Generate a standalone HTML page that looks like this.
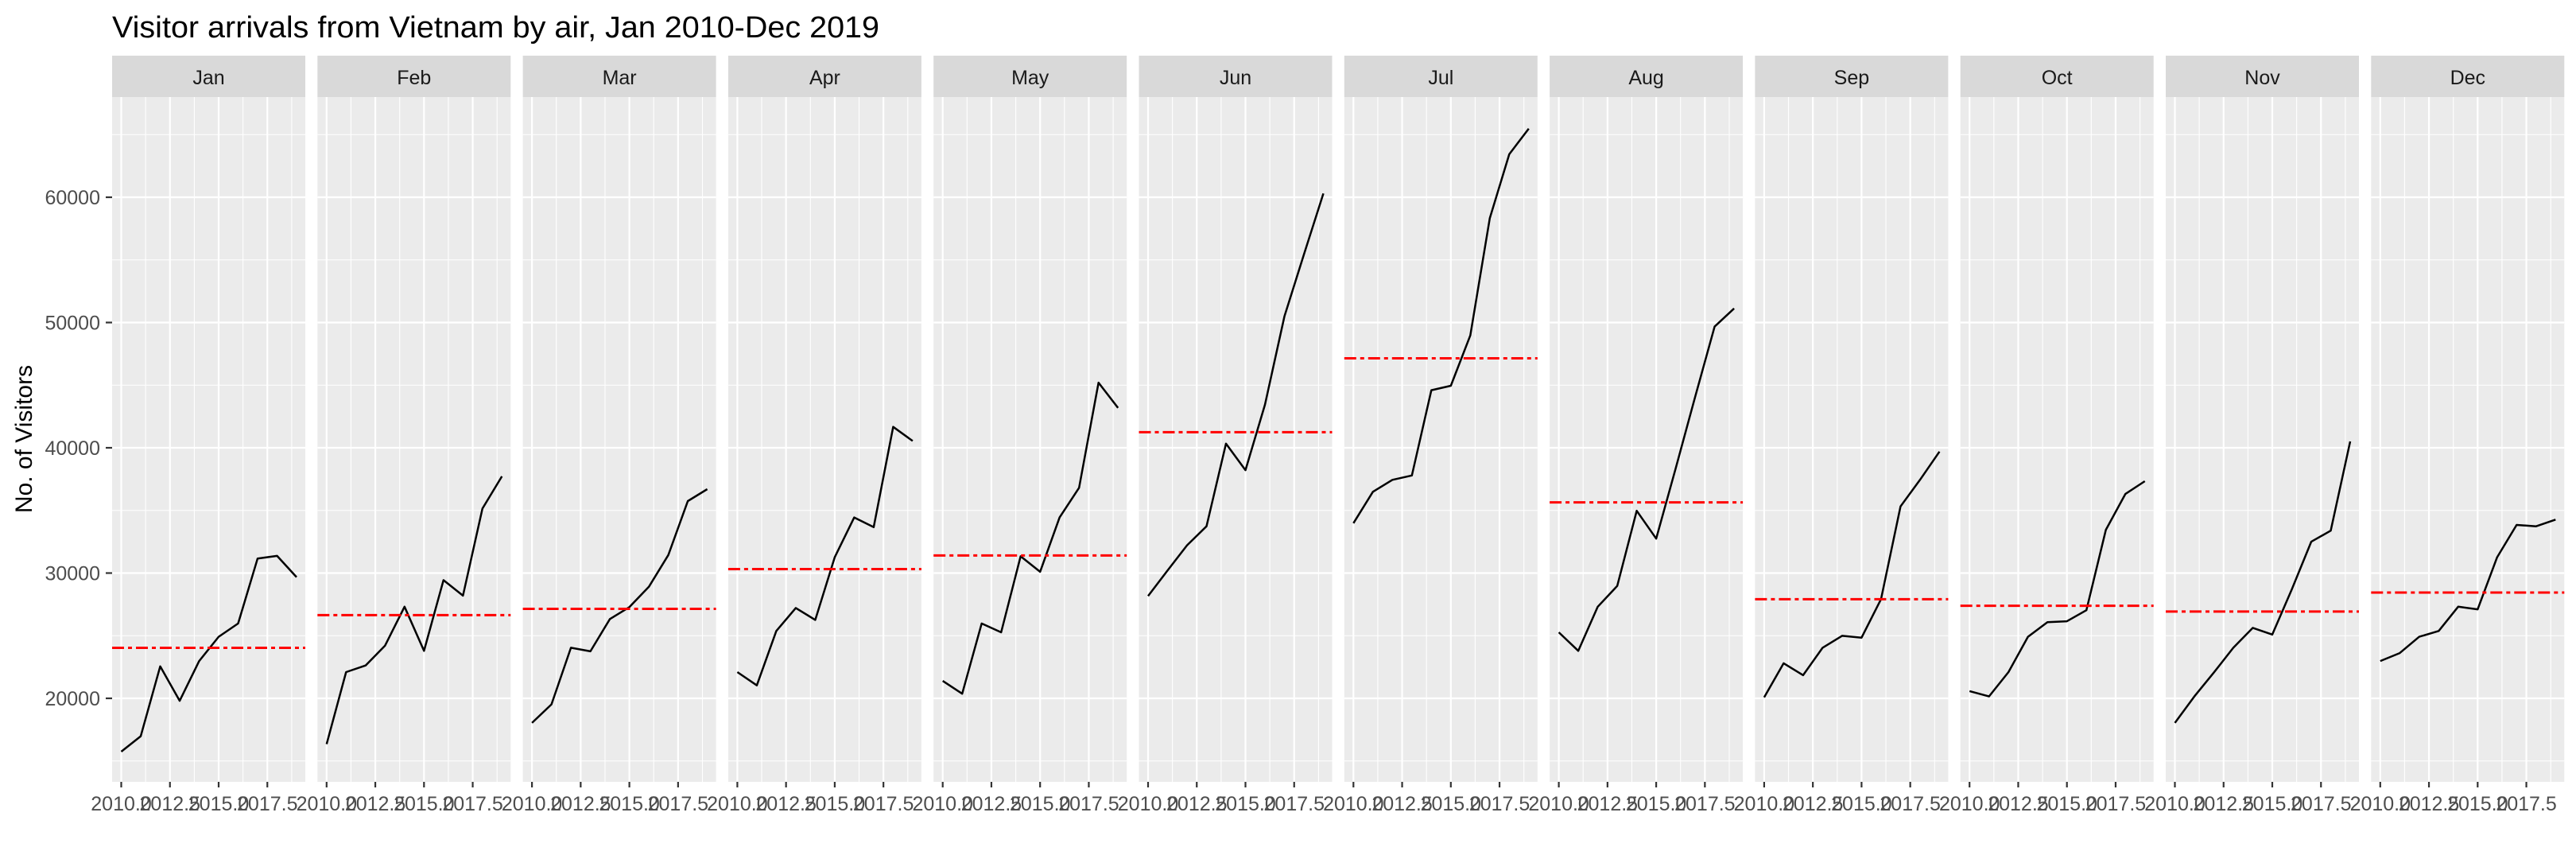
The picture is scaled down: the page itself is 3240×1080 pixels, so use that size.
<!DOCTYPE html>
<html><head><meta charset="utf-8"><style>
html,body{margin:0;padding:0;background:#fff;}
svg{display:block;}
text{font-family:"Liberation Sans",Arial,sans-serif;}
</style></head><body>
<svg id="s" width="3240" height="1080" viewBox="0 0 3240 1080" xmlns="http://www.w3.org/2000/svg">
<rect width="3240" height="1080" fill="#fff"/>
<text x="141" y="47" font-size="38" fill="#000" textLength="965" lengthAdjust="spacingAndGlyphs">Visitor arrivals from Vietnam by air, Jan 2010-Dec 2019</text>
<text transform="translate(40,552) rotate(-90)" font-size="30" fill="#000" text-anchor="middle">No. of Visitors</text>
<g id="g"></g>
</svg>
<script>
(function(){
var months=["Jan","Feb","Mar","Apr","May","Jun","Jul","Aug","Sep","Oct","Nov","Dec"];
var data=[
[1485,1450,1292,1370,1280,1225,1195,1048,1042,1090],
[1468,1305,1290,1245,1157,1257,1097,1132,935,862],
[1420,1378,1250,1258,1185,1158,1112,1040,918,891],
[1305,1335,1212,1160,1187,1045,955,977,750,782],
[1325,1354,1195,1215,1043,1078,955,888,650,707],
[1133,1075,1018,975,788,848,700,500,360,222],
[968,897,870,860,667,657,543,278,133,75],
[1215,1257,1157,1110,940,1003,844,682,523,482],
[1362,1285,1312,1250,1223,1227,1140,930,870,806],
[1348,1360,1305,1225,1192,1190,1165,983,902,873],
[1420,1360,1306,1250,1205,1220,1118,1010,985,783],
[1280,1262,1225,1212,1157,1163,1045,972,975,960]];
var means=[1250,1176,1162,1072,1041,762,595,921,1140,1155,1168,1125];
function Y(z){return 120+z/1.8;}
function vy(v){return 248-(v-60000)*0.01575;}
var out="";
var PT=122,PB=983,W=243;
for(var i=0;i<12;i++){
 var L=141+i*258.3;
 var xx=function(yr){return L+11.5+(yr-2010)*24.5;};
 out+='<rect x="'+L+'" y="70" width="'+W+'" height="52" fill="#D9D9D9"/>';
 out+='<text x="'+(L+W/2)+'" y="106" font-size="25" fill="#1A1A1A" text-anchor="middle">'+months[i]+'</text>';
 out+='<rect x="'+L+'" y="'+PT+'" width="'+W+'" height="'+(PB-PT)+'" fill="#EBEBEB"/>';
 [15000,25000,35000,45000,55000,65000].forEach(function(v){var y=vy(v);out+='<line x1="'+L+'" x2="'+(L+W)+'" y1="'+y+'" y2="'+y+'" stroke="#fff" stroke-width="1.1"/>';});
 [2011.25,2013.75,2016.25,2018.75].forEach(function(t){var x=xx(t);out+='<line x1="'+x+'" x2="'+x+'" y1="'+PT+'" y2="'+PB+'" stroke="#fff" stroke-width="1.1"/>';});
 [20000,30000,40000,50000,60000].forEach(function(v){var y=vy(v);out+='<line x1="'+L+'" x2="'+(L+W)+'" y1="'+y+'" y2="'+y+'" stroke="#fff" stroke-width="2.2"/>';});
 [2010,2012.5,2015,2017.5].forEach(function(t){var x=xx(t);out+='<line x1="'+x+'" x2="'+x+'" y1="'+PT+'" y2="'+PB+'" stroke="#fff" stroke-width="2.2"/>';
   out+='<line x1="'+x+'" x2="'+x+'" y1="'+PB+'" y2="'+(PB+7)+'" stroke="#333" stroke-width="2.2"/>';
   out+='<text x="'+x+'" y="1019" font-size="25" fill="#4D4D4D" text-anchor="middle">'+t.toFixed(1)+'</text>';});
 var pts=data[i].map(function(z,k){return xx(2010+k).toFixed(1)+','+Y(z).toFixed(1);}).join(' ');
 out+='<polyline points="'+pts+'" fill="none" stroke="#000" stroke-width="2.5" stroke-linejoin="round"/>';
 var my=Y(means[i]);
 out+='<line x1="'+L+'" x2="'+(L+W)+'" y1="'+my+'" y2="'+my+'" stroke="#FF0000" stroke-width="3" stroke-dasharray="15 5 5 5"/>';
}
[20000,30000,40000,50000,60000].forEach(function(v){var y=vy(v);
 out+='<line x1="133" x2="141" y1="'+y+'" y2="'+y+'" stroke="#333" stroke-width="2.2"/>';
 out+='<text x="126" y="'+(y+9)+'" font-size="25" fill="#4D4D4D" text-anchor="end">'+v+'</text>';});
document.getElementById("g").innerHTML=out;
})();
</script>
</body></html>
